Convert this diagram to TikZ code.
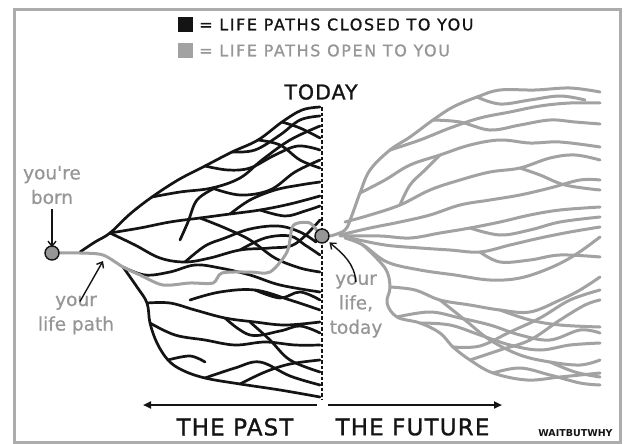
\documentclass[tikz,border=0pt]{standalone}
\usepackage{fontspec}
\setmainfont{DejaVu Sans}
\newfontfamily\legfont[LetterSpace=10,FakeBold=1]{DejaVu Sans}
\newfontfamily\bigfont[LetterSpace=5,FakeBold=1.2]{DejaVu Sans}
\newfontfamily\lblfont[FakeBold=0.6]{DejaVu Sans}
\usetikzlibrary{arrows.meta}
\definecolor{pathgray}{RGB}{162,162,162}
\definecolor{txtgray}{RGB}{150,150,150}
\definecolor{dotgray}{RGB}{150,150,150}
\definecolor{ink}{RGB}{20,20,20}
\definecolor{framegray}{RGB}{172,172,172}
\newcommand\blkpath[1]{\draw[blk] plot[smooth,tension=0.6] coordinates {#1};}
\newcommand\grypath[1]{\draw[gry] plot[smooth,tension=0.6] coordinates {#1};}
\begin{document}
\begin{tikzpicture}[x=1pt,y=-1pt,
  blk/.style={draw=ink,line width=2.7pt,line cap=round,line join=round},
  gry/.style={draw=pathgray,line width=3pt,line cap=round,line join=round},
  dot/.style={circle,fill=dotgray,draw=ink,line width=1.4pt,minimum size=14pt,inner sep=0pt},
  lbl/.style={text=txtgray,font=\lblfont\fontsize{18.5}{24.5}\selectfont,align=center,inner sep=0pt},
  lblarrow/.style={draw=ink,line width=1.4pt,-{Straight Barb[length=5pt,width=8pt]}},
  bigarrow/.style={draw=ink,line width=2.2pt,-{Triangle[length=8pt,width=7pt]}},
  big/.style={font=\bigfont\fontsize{23}{28}\selectfont,text=ink,inner sep=0pt},
  leg/.style={anchor=west,inner sep=0pt,font=\legfont\fontsize{16}{19}\selectfont},
  sq/.style={minimum size=15pt,inner sep=0pt}]
\useasboundingbox (0,0) rectangle (626,444);
\fill[white] (0,0) rectangle (626,444);
\draw[framegray,line width=3pt] (14,10) rectangle (620,442);

% legend
\node[sq,fill=ink] (sqk) at (185.5,24.5) {};
\node[leg,text=ink] (closed) at (199,24.5) {= LIFE PATHS CLOSED TO YOU};
\node[sq,fill=pathgray] (sqg) at (185.5,50.5) {};
\node[leg,text=txtgray] (open) at (199,50.5) {= LIFE PATHS OPEN TO YOU};

% today
\node[inner sep=0pt,text=ink,font=\bigfont\fontsize{20.5}{24}\selectfont] (today) at (321,92) {TODAY};
\coordinate (dtop) at (322,107);
\coordinate (dbot) at (322,400);
\draw[ink,line width=1.6pt,dash pattern=on 3.5pt off 2pt] (dtop) -- (dbot);

% past (closed) paths
\blkpath{(80,252) (95,242) (110,233) (130,214) (152,197) (178,180) (205,166) (232,152) (258,140) (282,122) (302,110) (320,107)}
\blkpath{(152,197) (180,192) (212,188) (240,178) (262,160) (290,140) (320,126)}
\blkpath{(205,166) (228,170) (250,168) (275,155) (298,146) (320,150)}
\blkpath{(258,140) (280,145) (300,160) (320,168)}
\blkpath{(282,122) (300,128) (320,138)}
\blkpath{(232,152) (255,150) (280,135) (300,120) (320,116)}
\blkpath{(212,188) (240,195) (270,190) (295,172) (320,160)}
\blkpath{(110,233) (140,228) (170,222) (200,218) (230,214) (260,210) (290,204) (320,196)}
\blkpath{(260,210) (285,216) (305,211) (320,206)}
\blkpath{(180,240) (188,222) (197,200) (215,188)}
\blkpath{(230,214) (250,200) (275,190) (300,185) (320,182)}
\blkpath{(110,233) (135,245) (160,258) (185,262) (210,258) (240,250) (270,248) (295,244) (320,220)}
\blkpath{(185,262) (205,246) (225,238) (250,229) (278,226) (300,232) (316,242)}
\blkpath{(200,218) (225,228) (250,240) (275,258) (300,268) (320,272)}
\blkpath{(240,250) (265,238) (290,236) (305,245) (320,255)}
\blkpath{(123,267) (145,275) (170,272) (195,265) (220,268) (250,275) (280,285) (320,292)}
\blkpath{(123,267) (137,287) (147,303) (150,323) (157,343) (168,360) (182,370) (205,378) (240,384) (280,390) (320,397)}
\blkpath{(147,303) (170,303) (195,310) (225,318) (255,322) (285,325) (320,322)}
\blkpath{(225,318) (250,335) (280,331) (300,326) (320,333)}
\blkpath{(150,323) (175,335) (205,340) (235,345) (265,342) (295,345) (320,345)}
\blkpath{(168,360) (190,356) (205,362)}
\blkpath{(190,300) (220,292) (255,290) (290,300) (320,310)}
\blkpath{(255,290) (280,298) (300,292) (320,300)}
\blkpath{(250,322) (270,340) (290,360) (320,372)}
\blkpath{(240,384) (265,372) (290,364) (320,360)}
\blkpath{(205,378) (235,368) (260,362) (290,376) (320,385)}

% future (open) paths
\grypath{(330,236) (345,230) (352,215) (360,193) (370,170) (390,150) (410,137) (433,120) (453,107) (477,97) (500,90) (535,90) (570,88) (600,92)}
\grypath{(477,97) (500,104) (530,100) (560,96) (585,100)}
\grypath{(390,150) (420,140) (450,128) (480,118) (510,112) (540,106) (570,103) (600,103)}
\grypath{(433,120) (460,122) (490,130) (520,125) (550,120) (575,122) (600,124)}
\grypath{(360,193) (385,180) (410,165) (440,155) (470,145) (500,140) (530,143) (560,142) (600,147)}
\grypath{(345,222) (370,215) (400,205) (430,190) (460,180) (490,172) (520,168) (550,158) (575,155) (600,160)}
\grypath{(400,205) (410,185) (425,170) (440,155)}
\grypath{(520,168) (540,175) (565,185) (600,190)}
\grypath{(340,235) (370,228) (400,222) (430,215) (460,205) (490,200) (520,195) (550,188) (580,180) (600,180)}
\grypath{(340,236) (380,236) (410,238) (440,233) (470,228) (500,222) (530,215) (560,210) (600,207)}
\grypath{(470,228) (500,235) (530,230) (560,222) (600,217)}
\grypath{(350,238) (385,245) (420,248) (450,250) (480,252) (510,245) (540,238) (570,232) (600,227)}
\grypath{(480,252) (500,262) (530,260) (560,255) (600,257)}
\grypath{(345,238) (363,245) (387,262) (420,270) (455,275) (490,280) (520,278) (550,268) (575,255) (600,237)}
\grypath{(363,245) (385,268) (390,287) (387,303) (397,317) (420,323) (440,333) (453,347) (470,360) (493,373) (527,380) (560,377) (600,373)}
\grypath{(390,287) (415,290) (440,300) (470,305) (500,310) (530,312) (560,300) (580,290) (600,277)}
\grypath{(397,317) (430,312) (460,318) (490,325) (520,335) (550,340) (580,330) (600,333)}
\grypath{(420,323) (450,325) (480,335) (510,345) (540,350) (570,345) (600,343)}
\grypath{(440,300) (465,320) (490,340) (520,355) (550,362) (580,365) (600,360)}
\grypath{(500,310) (530,320) (560,325) (600,327)}
\grypath{(470,360) (500,350) (530,340) (560,320) (585,305) (600,300)}
\grypath{(453,347) (480,346) (510,332) (540,318) (570,300) (600,290)}
\grypath{(493,373) (520,368) (550,375) (580,383) (600,385)}
\grypath{(550,362) (575,372) (600,377)}

% your life path
\draw[gry,line width=3pt] plot[smooth,tension=0.5] coordinates {(52,253) (80,253) (103,255) (123,267) (140,275) (163,285) (190,283) (213,283) (222,273) (250,272) (270,272) (287,252) (292,228) (298,223) (310,223) (318,232)};

% dots
\node[dot] (born) at (52,253) {};
\node[dot] (now) at (322,236) {};

% labels
\node[lbl] (bornlbl) at (52,185) {you're\\born};
\node[lbl] (pathlbl) at (76,315) {your\\life path};
\node[lbl] (nowlbl) at (356,306) {your\\life,\\today};
\coordinate (lp) at (103,261);
\draw[lblarrow] ([yshift=-5pt]bornlbl.south) -- ([yshift=-2pt]born.north);
\draw[lblarrow] ([xshift=4pt,yshift=-6pt]pathlbl.north) -- (lp);
\draw[lblarrow] ([yshift=-8pt]nowlbl.north) to[out=95,in=-40] ([xshift=2pt,yshift=-1pt]now.south east);

% bottom
\coordinate (pastR) at (317,405);
\coordinate (pastL) at (143,405);
\coordinate (futL) at (328,405);
\coordinate (futR) at (502,405);
\draw[bigarrow] (pastR) -- (pastL);
\draw[bigarrow] (futL) -- (futR);
\node[big] (past) at (235,427) {THE PAST};
\node[big] (future) at (412.5,427) {THE FUTURE};
\node[inner sep=0pt,text=ink,font=\bfseries\fontsize{9.5}{11}\selectfont] (wbw) at (575.5,433) {WAITBUTWHY};
\end{tikzpicture}
\end{document}
